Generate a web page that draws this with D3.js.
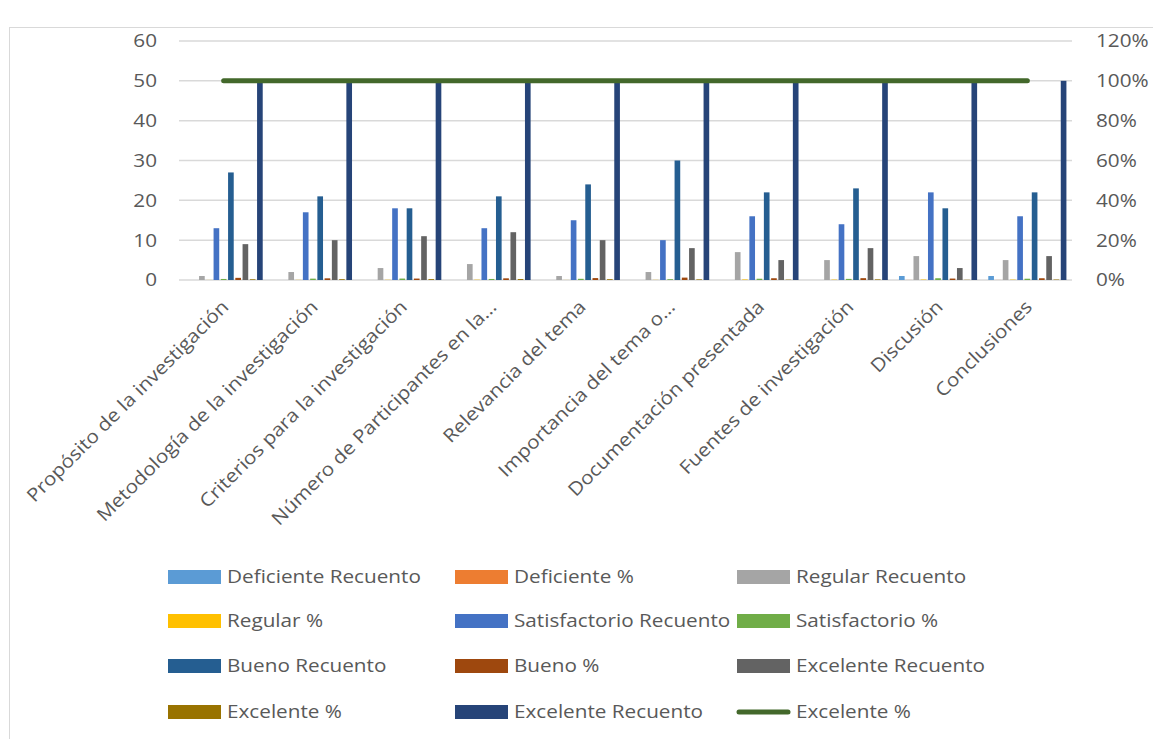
<!DOCTYPE html>
<html><head><meta charset="utf-8">
<script src="https://cdn.jsdelivr.net/npm/d3@7"></script>
<style>
html,body{margin:0;padding:0;background:#fff;}
svg{display:block;font-family:"Open Sans",sans-serif;}
</style></head>
<body>
<svg id="c" width="1153" height="739"></svg>
<script>
const categories = ["Propósito de la investigación","Metodología de la investigación","Criterios para la investigación","Número de Participantes en la…","Relevancia del tema","Importancia del tema o…","Documentación presentada","Fuentes de investigación","Discusión","Conclusiones"];
const deficienteRecuento = [0,0,0,0,0,0,0,0,1,1];
const deficientePct      = [0,0,0,0,0,0,0,0,0.02,0.02];
const regularRecuento    = [1,2,3,4,1,2,7,5,6,5];
const regularPct         = [0.02,0.04,0.06,0.08,0.02,0.04,0.14,0.10,0.12,0.10];
const satisfactorioRecuento = [13,17,18,13,15,10,16,14,22,16];
const satisfactorioPct   = [0.26,0.34,0.36,0.26,0.30,0.20,0.32,0.28,0.44,0.32];
const buenoRecuento      = [27,21,18,21,24,30,22,23,18,22];
const buenoPct           = [0.54,0.42,0.36,0.42,0.48,0.60,0.44,0.46,0.36,0.44];
const excelenteRecuento  = [9,10,11,12,10,8,5,8,3,6];
const excelentePct       = [0.18,0.20,0.22,0.24,0.20,0.16,0.10,0.16,0.06,0.12];
const totalRecuento      = [50,50,50,50,50,50,50,50,50,50];
const totalPct           = [1,1,1,1,1,1,1,1,1,1];
const leftTicks = [0,10,20,30,40,50,60];
const rightTicks = [0,0.2,0.4,0.6,0.8,1.0,1.2];

const barSeries = [
  {name:"Deficiente Recuento", values:deficienteRecuento, color:"#5B9BD5"},
  {name:"Deficiente %", values:deficientePct, color:"#ED7D31"},
  {name:"Regular Recuento", values:regularRecuento, color:"#A5A5A5"},
  {name:"Regular %", values:regularPct, color:"#FFC000"},
  {name:"Satisfactorio Recuento", values:satisfactorioRecuento, color:"#4472C4"},
  {name:"Satisfactorio %", values:satisfactorioPct, color:"#70AD47"},
  {name:"Bueno Recuento", values:buenoRecuento, color:"#255E91"},
  {name:"Bueno %", values:buenoPct, color:"#9E480E"},
  {name:"Excelente Recuento", values:excelenteRecuento, color:"#636363"},
  {name:"Excelente %", values:excelentePct, color:"#997300"},
  {name:"Excelente Recuento", values:totalRecuento, color:"#264478"}
];
const lineSeries = {name:"Excelente %", values:totalPct, color:"#43682B"};

const svg = d3.select("#c");
const txt = "#595959";
const FS = "18.5px", SX = 1.12;

// chart border
svg.append("rect").attr("x",9.5).attr("y",27.5).attr("width",1160).attr("height",760)
  .attr("fill","#fff").attr("stroke","#d9d9d9").attr("stroke-width",1);

const plotL = 179, plotR = 1072, plotT = 41, plotB = 280;
const x0 = d3.scaleBand().domain(categories).range([plotL,plotR]).paddingInner(0.125).paddingOuter(0.0625);
const x1 = d3.scaleBand().domain(d3.range(barSeries.length)).range([0,x0.bandwidth()]).paddingInner(0.22);
const y = d3.scaleLinear().domain([0,60]).range([plotB,plotT]);
const y2 = d3.scaleLinear().domain([0,1.2]).range([plotB,plotT]);

// gridlines
svg.append("g").selectAll("line").data(leftTicks).join("line")
  .attr("x1",plotL).attr("x2",plotR).attr("y1",d=>y(d)).attr("y2",d=>y(d))
  .attr("stroke","#d9d9d9").attr("stroke-width",1.5);

// left axis
const gl = svg.append("g").attr("transform",`translate(${plotL},0)`)
  .call(d3.axisLeft(y).tickValues(leftTicks).tickSize(0).tickPadding(0));
gl.select(".domain").remove();
gl.selectAll(".tick text").attr("x",null)
  .attr("transform",`translate(-22,0) scale(${SX},1)`)
  .attr("fill",txt).style("font-size",FS).style("font-family","Open Sans");

// right axis
const gr = svg.append("g").attr("transform",`translate(${plotR},0)`)
  .call(d3.axisRight(y2).tickValues(rightTicks).tickSize(0).tickPadding(0).tickFormat(d3.format(".0%")));
gr.select(".domain").remove();
gr.selectAll(".tick text").attr("x",null)
  .attr("transform",`translate(24,0) scale(${SX},1)`)
  .attr("fill",txt).style("font-size",FS).style("font-family","Open Sans");

// bars
const groups = svg.append("g").selectAll("g").data(categories).join("g")
  .attr("transform",d=>`translate(${x0(d)},0)`);
groups.selectAll("rect").data((c,ci)=>barSeries.map((s,si)=>({si, v:s.values[ci], color:s.color})))
  .join("rect")
  .attr("x",d=>x1(d.si)).attr("width",x1.bandwidth())
  .attr("y",d=>y(d.v)).attr("height",d=>plotB - y(d.v))
  .attr("fill",d=>d.color);

// line
const line = d3.line().x((d,i)=>x0(categories[i])+x0.bandwidth()/2).y(d=>y2(d));
svg.append("path").datum(lineSeries.values).attr("d",line)
  .attr("fill","none").attr("stroke",lineSeries.color).attr("stroke-width",5).attr("stroke-linecap","round");

// x labels
svg.append("g").selectAll("text").data(categories).join("text")
  .attr("transform",d=>`translate(${x0(d)+x0.bandwidth()/2+6},${308}) rotate(-45) scale(${SX},1)`)
  .attr("text-anchor","end").attr("fill",txt).style("font-size",FS).text(d=>d);

// legend
const legendItems = barSeries.map(s=>({name:s.name,color:s.color,type:"bar"})).concat([{name:lineSeries.name,color:lineSeries.color,type:"line"}]);
const colX = [168,455,737];
const rowY = [577,621,666,712];
const lg = svg.append("g").selectAll("g").data(legendItems).join("g")
  .attr("transform",(d,i)=>`translate(${colX[i%3]},${rowY[Math.floor(i/3)]})`);
lg.filter(d=>d.type==="bar").append("rect").attr("x",0).attr("y",-7).attr("width",53).attr("height",14).attr("fill",d=>d.color);
lg.filter(d=>d.type==="line").append("line").attr("x1",2).attr("x2",51).attr("y1",0).attr("y2",0)
  .attr("stroke",d=>d.color).attr("stroke-width",5).attr("stroke-linecap","round");
lg.append("text").attr("transform",`translate(59,0) scale(${SX},1)`).attr("dy","0.35em")
  .attr("fill",txt).style("font-size",FS).text(d=>d.name);
</script>
</body></html>
